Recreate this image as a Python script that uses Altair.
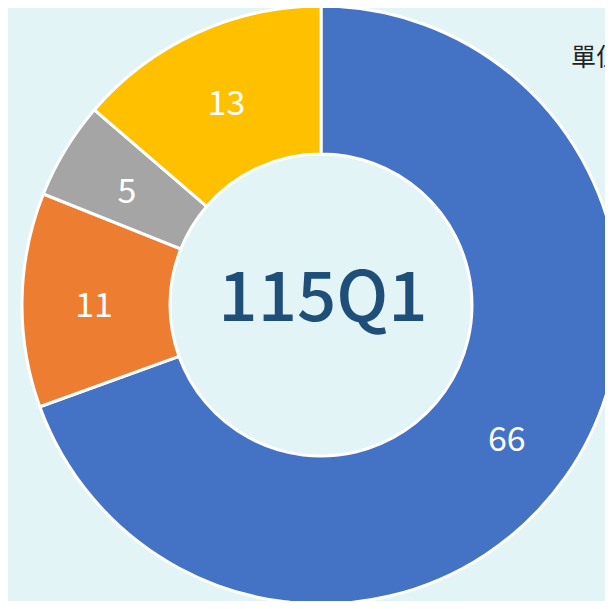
import altair as alt
import pandas as pd

categories = ["A", "B", "C", "D"]
values = [66, 11, 5, 13]
colors = ["#4472C4", "#ED7D31", "#A5A5A5", "#FFC000"]
center_label = "115Q1"
unit_label = "單位：%"

df = pd.DataFrame({"cat": categories, "value": values, "order": list(range(len(values)))})
df["label"] = df["value"].astype(str)

CX, CY = 313, 297

base = alt.Chart(df).encode(
    theta=alt.Theta("value:Q", stack=True),
    order=alt.Order("order:Q"),
)

arcs = base.mark_arc(innerRadius=151, outerRadius=299, stroke="white", strokeWidth=3).encode(
    x=alt.value(CX), y=alt.value(CY),
    color=alt.Color("cat:N", scale=alt.Scale(domain=categories, range=colors), legend=None),
)

labels = base.mark_text(radius=227, dy=6, font="Noto Sans CJK TC", fontSize=34, color="white",
                        baseline="middle", align="center").encode(
    x=alt.value(CX), y=alt.value(CY),
    text="label:N",
)

center = alt.Chart(pd.DataFrame({"t": [center_label]})).mark_text(
    font="Noto Sans CJK TC", fontSize=69, fontWeight=500, color="#1F4E79",
    baseline="alphabetic", align="center"
).encode(x=alt.value(CX + 2), y=alt.value(313), text="t:N")

unit = alt.Chart(pd.DataFrame({"t": [unit_label]})).mark_text(
    font="Noto Sans CJK TC", fontSize=25, color="#222222", baseline="alphabetic", align="left"
).encode(x=alt.value(563), y=alt.value(58), text="t:N")

chart = alt.layer(arcs, labels, center, unit).properties(
    width=597, height=593, padding=0, autosize=alt.AutoSizeParams(type="none"),
    background="#E3F4F6",
).configure_view(stroke=None)

chart.save("out.html", embed_options={"renderer": "svg", "actions": False})
